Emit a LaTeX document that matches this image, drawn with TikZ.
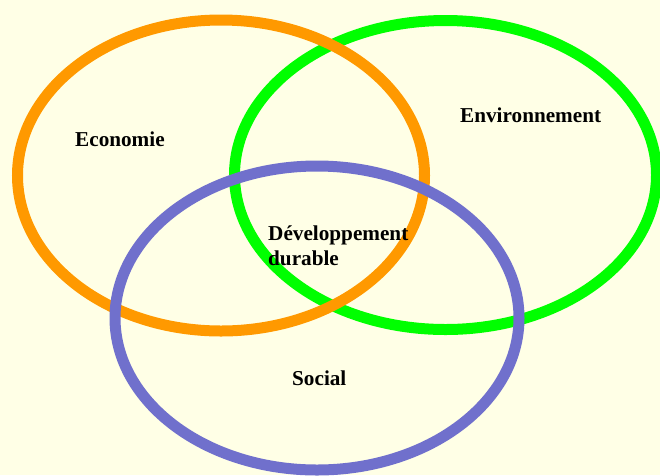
\documentclass[tikz,border=0pt]{standalone}
\usepackage{fontspec}
\setmainfont{Liberation Serif}
\definecolor{bgyellow}{HTML}{FFFFE6}
\definecolor{ecoorange}{HTML}{FF9900}
\definecolor{envgreen}{HTML}{00FF00}
\definecolor{socblue}{HTML}{7070CC}
\tikzset{
  ring/.style={line width=11pt},
  lbl/.style={font=\fontsize{21.2}{24.5}\selectfont\bfseries, text=black, inner sep=0pt, anchor=base west, align=left}
}
\begin{document}
\begin{tikzpicture}[x=1pt,y=-1pt]
\useasboundingbox (0,0) rectangle (660,475);
\clip (0,0) rectangle (660,475);
\fill[bgyellow] (0,0) rectangle (660,475);
\draw[ring, envgreen] (445.5,175) ellipse [x radius=211, y radius=154.5];
\draw[ring, ecoorange] (221,175.5) ellipse [x radius=203.5, y radius=155.5];
\draw[ring, socblue] (317,318) ellipse [x radius=202, y radius=152];
\node[lbl] (eco) at (75,146) {Economie};
\node[lbl] (env) at (460,122.5) {Environnement};
\node[lbl] (dd) at (268,265) {Développement\\durable};
\node[lbl] (soc) at (292,385.5) {Social};
\end{tikzpicture}
\end{document}
